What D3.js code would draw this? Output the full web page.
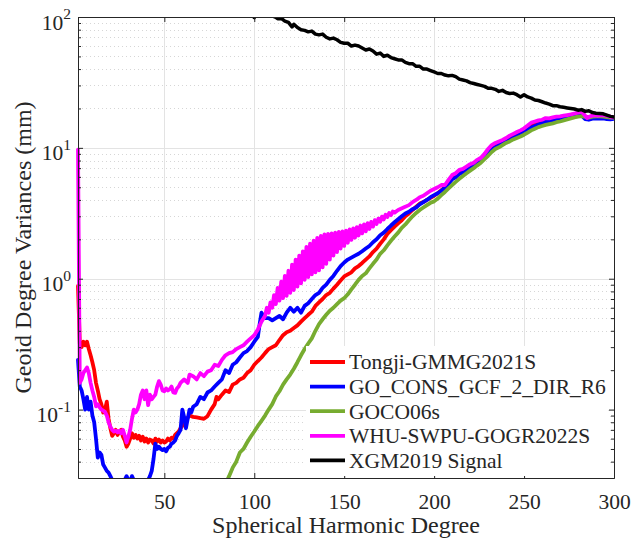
<!DOCTYPE html>
<head>
    <meta charset="utf-8">
    <script src="https://d3js.org/d3.v7.min.js"></script>
    <style>
    body {
        margin: 0;
        background: #fff;
    }

    svg text {
        font-family: "Liberation Serif", "Times New Roman", Times, serif;
        fill: #262626;
    }

    .grid-major line {
        stroke: #e3e3e3;
        stroke-width: 1;
    }

    .grid-minor line {
        stroke: #d6d6d6;
        stroke-width: 1;
        stroke-dasharray: 1, 3;
    }

    .axis path,
    .axis line {
        stroke: #262626;
    }

    .series {
        fill: none;
        stroke-linejoin: round;
        stroke-linecap: round;
    }
    </style>
</head>

<body>
    <script>
    // degree, value (mm) pairs
    var tongji = [
        [2, 0.88], [3, 0.32], [4, 0.30], [5, 0.33], [6, 0.31], [7, 0.33], [8, 0.29], [9, 0.26],
        [10, 0.23], [11, 0.20], [12, 0.16], [13, 0.14], [14, 0.12], [15, 0.11], [16, 0.095],
        [17, 0.10], [18, 0.115], [19, 0.085], [20, 0.072], [21, 0.063], [22, 0.066], [23, 0.07],
        [24, 0.064], [25, 0.068], [26, 0.07], [27, 0.062], [28, 0.058], [29, 0.052], [30, 0.055],
        [31, 0.06], [32, 0.066], [33, 0.061], [34, 0.064], [35, 0.06], [36, 0.063], [37, 0.058],
        [38, 0.062], [39, 0.057], [40, 0.06], [41, 0.056], [42, 0.059], [43, 0.058], [44, 0.055],
        [45, 0.06], [46, 0.057], [47, 0.059], [48, 0.056], [49, 0.058], [50, 0.056], [51, 0.057],
        [52, 0.06], [53, 0.058], [54, 0.061], [55, 0.06], [56, 0.064], [57, 0.066], [58, 0.068],
        [59, 0.072], [60, 0.075], [61, 0.078], [62, 0.083], [63, 0.087], [64, 0.09], [66, 0.088],
        [68, 0.087], [70, 0.086], [72, 0.085], [74, 0.089], [76, 0.1], [78, 0.11], [79, 0.125],
        [80, 0.12], [82, 0.13], [84, 0.14], [86, 0.136], [88, 0.155], [90, 0.16], [92, 0.17],
        [94, 0.175], [96, 0.19], [98, 0.2], [100, 0.22], [102, 0.235], [104, 0.25], [106, 0.27],
        [108, 0.29], [110, 0.3], [112, 0.31], [114, 0.34], [116, 0.37], [118, 0.39], [120, 0.4],
        [122, 0.42], [124, 0.44], [126, 0.47], [128, 0.5], [130, 0.53], [132, 0.56], [134, 0.62],
        [136, 0.66], [138, 0.7], [140, 0.75], [142, 0.78], [144, 0.84], [146, 0.9], [148, 0.97],
        [150, 1.04], [152, 1.08], [154, 1.12], [156, 1.2], [158, 1.25], [160, 1.32], [162, 1.4],
        [164, 1.48], [166, 1.6], [168, 1.7], [170, 1.85], [172, 2.0], [174, 2.2], [176, 2.35],
        [178, 2.5], [180, 2.65], [182, 2.8], [184, 3.0], [186, 3.15], [188, 3.35], [190, 3.55],
        [192, 3.75], [194, 3.85], [196, 4.0], [198, 4.15], [200, 4.3], [202, 4.5], [204, 4.75],
        [206, 5.0], [208, 5.4], [210, 5.9], [212, 6.1], [214, 6.5], [216, 6.6], [218, 6.9],
        [220, 7.2], [222, 7.4], [224, 7.8], [226, 8.1], [228, 8.6], [230, 9.4], [232, 10.0],
        [234, 10.4], [236, 10.7], [238, 11.0], [240, 11.4], [242, 11.8], [244, 12.2], [246, 12.6],
        [248, 13.0], [250, 13.5], [252, 14.1], [254, 14.8], [256, 15.2], [258, 15.5], [260, 15.8],
        [262, 16.2], [264, 16.2], [266, 16.5], [268, 16.7], [270, 16.9], [272, 17.1], [274, 17.3],
        [276, 17.5], [278, 17.8], [280, 18.1], [282, 18.4], [284, 17.3], [286, 17.1], [288, 17.3],
        [290, 17.4], [292, 17.3], [294, 17.4], [296, 17.2], [298, 17.0], [300, 17.0]
    ];

    var goCons = [
        [2, 0.24], [3, 0.15], [4, 0.14], [5, 0.12], [6, 0.10], [7, 0.125], [8, 0.10], [9, 0.115],
        [10, 0.09], [11, 0.08], [12, 0.06], [13, 0.043], [14, 0.047], [15, 0.045], [16, 0.038],
        [17, 0.036], [18, 0.034], [19, 0.033], [20, 0.031], [21, 0.029], [22, 0.028], [23, 0.027],
        [24, 0.026], [25, 0.027], [26, 0.028], [27, 0.027], [28, 0.029], [29, 0.031], [30, 0.029],
        [31, 0.028], [32, 0.031], [33, 0.029], [34, 0.027], [35, 0.026], [36, 0.025], [37, 0.026],
        [38, 0.027], [39, 0.028], [40, 0.027], [41, 0.029], [42, 0.031], [43, 0.034], [44, 0.042],
        [45, 0.055], [46, 0.05], [47, 0.052], [48, 0.05], [49, 0.049], [50, 0.05], [51, 0.048],
        [52, 0.051], [53, 0.052], [54, 0.055], [55, 0.056], [56, 0.058], [57, 0.063], [58, 0.066],
        [59, 0.07], [60, 0.1], [61, 0.088], [62, 0.072], [63, 0.085], [64, 0.1], [65, 0.095],
        [66, 0.105], [68, 0.11], [70, 0.125], [72, 0.12], [74, 0.135], [76, 0.14], [78, 0.15],
        [80, 0.16], [82, 0.17], [84, 0.2], [86, 0.19], [88, 0.22], [90, 0.23], [92, 0.25],
        [94, 0.27], [96, 0.28], [98, 0.3], [100, 0.33], [102, 0.36], [103, 0.45], [104, 0.55],
        [106, 0.5], [108, 0.5], [110, 0.48], [112, 0.5], [114, 0.52], [116, 0.49], [118, 0.55],
        [120, 0.6], [122, 0.56], [124, 0.6], [126, 0.55], [128, 0.62], [130, 0.65], [132, 0.7],
        [134, 0.75], [136, 0.78], [138, 0.85], [140, 0.9], [142, 0.98], [144, 1.05], [146, 1.15],
        [148, 1.25], [150, 1.33], [152, 1.4], [154, 1.45], [156, 1.5], [158, 1.55], [160, 1.62],
        [162, 1.7], [164, 1.78], [166, 1.9], [168, 2.0], [170, 2.15], [172, 2.25], [174, 2.4],
        [176, 2.55], [178, 2.7], [180, 2.85], [182, 3.0], [184, 3.15], [186, 3.25], [188, 3.4],
        [190, 3.5], [192, 3.7], [194, 3.85], [196, 4.0], [198, 4.2], [200, 4.35], [202, 4.5],
        [204, 4.7], [206, 4.95], [208, 5.3], [210, 5.75], [212, 5.95], [214, 6.3], [216, 6.5],
        [218, 6.75], [220, 7.05], [222, 7.3], [224, 7.6], [226, 7.95], [228, 8.4], [230, 9.1],
        [232, 9.7], [234, 10.1], [236, 10.5], [238, 10.8], [240, 11.1], [242, 11.5], [244, 11.9],
        [246, 12.3], [248, 12.7], [250, 13.1], [252, 13.7], [254, 14.3], [256, 14.7], [258, 15.1],
        [260, 15.4], [262, 15.8], [264, 15.9], [266, 16.2], [268, 16.4], [270, 16.5], [272, 16.7],
        [274, 16.9], [276, 17.1], [278, 17.3], [280, 17.6], [282, 17.7], [284, 16.6], [286, 16.4],
        [288, 16.7], [290, 16.8], [292, 16.7], [294, 16.8], [296, 16.6], [298, 16.5], [300, 16.7]
    ];

    var goco06s = [
        [80, 0.022], [82, 0.024], [84, 0.027], [86, 0.031], [88, 0.036], [90, 0.04], [92, 0.047],
        [94, 0.05], [96, 0.056], [98, 0.062], [100, 0.068], [102, 0.075], [104, 0.082],
        [106, 0.09], [108, 0.1], [110, 0.11], [112, 0.126], [114, 0.138], [116, 0.155],
        [118, 0.17], [120, 0.185], [122, 0.205], [124, 0.23], [126, 0.26], [128, 0.29],
        [130, 0.32], [132, 0.35], [134, 0.4], [136, 0.45], [138, 0.49], [140, 0.53], [142, 0.57],
        [144, 0.6], [146, 0.64], [148, 0.68], [150, 0.71], [152, 0.76], [154, 0.83], [156, 0.9],
        [158, 0.98], [160, 1.05], [162, 1.1], [164, 1.2], [166, 1.3], [168, 1.4], [170, 1.55],
        [172, 1.65], [174, 1.8], [176, 1.95], [178, 2.1], [180, 2.25], [182, 2.45], [184, 2.6],
        [186, 2.8], [188, 3.0], [190, 3.18], [192, 3.35], [194, 3.5], [196, 3.65], [198, 3.8],
        [200, 3.9], [202, 4.1], [204, 4.35], [206, 4.6], [208, 4.9], [210, 5.2], [212, 5.5],
        [214, 5.8], [216, 6.1], [218, 6.4], [220, 6.7], [222, 7.0], [224, 7.35], [226, 7.7],
        [228, 8.2], [230, 8.7], [232, 9.3], [234, 9.8], [236, 10.1], [238, 10.5], [240, 10.9],
        [242, 11.2], [244, 11.6], [246, 11.9], [248, 12.2], [250, 12.6], [252, 13.1], [254, 13.6],
        [256, 14.0], [258, 14.4], [260, 14.7], [262, 15.0], [264, 15.2], [266, 15.4], [268, 15.7],
        [270, 15.9], [272, 16.2], [274, 16.5], [276, 16.8], [278, 17.1], [280, 17.3], [282, 17.5],
        [284, 17.2], [286, 17.0], [288, 17.3], [290, 17.4], [292, 17.4], [294, 17.3], [296, 17.2],
        [298, 17.0], [300, 17.0]
    ];

    var whuSwpu = [
        [2, 9.7], [3, 0.16], [4, 0.17], [5, 0.19], [6, 0.2], [7, 0.21], [8, 0.19], [9, 0.16],
        [10, 0.14], [11, 0.125], [12, 0.106], [13, 0.11], [14, 0.104], [15, 0.1], [16, 0.098],
        [17, 0.096], [18, 0.09], [19, 0.08], [20, 0.074], [21, 0.07], [22, 0.068], [23, 0.069],
        [24, 0.067], [25, 0.069], [26, 0.066], [27, 0.07], [28, 0.063], [29, 0.056], [30, 0.062],
        [31, 0.07], [32, 0.085], [33, 0.1], [34, 0.095], [35, 0.1], [36, 0.11], [37, 0.13],
        [38, 0.14], [39, 0.12], [40, 0.14], [41, 0.108], [42, 0.13], [43, 0.12], [44, 0.125],
        [45, 0.13], [46, 0.15], [47, 0.165], [48, 0.155], [49, 0.14], [50, 0.138], [51, 0.145],
        [52, 0.14], [53, 0.143], [54, 0.15], [55, 0.135], [56, 0.134], [57, 0.145], [58, 0.15],
        [59, 0.16], [60, 0.165], [61, 0.17], [62, 0.165], [63, 0.16], [64, 0.185], [66, 0.18],
        [68, 0.17], [70, 0.19], [72, 0.18], [74, 0.195], [76, 0.2], [78, 0.22], [80, 0.215],
        [82, 0.24], [84, 0.26], [86, 0.27], [88, 0.275], [90, 0.29], [92, 0.3], [94, 0.31],
        [96, 0.33], [98, 0.35], [100, 0.37], [102, 0.41], [104, 0.47], [106, 0.52],
        [107, 0.6], [108, 0.55], [109, 0.66], [110, 0.6], [111, 0.75], [112, 0.64], [113, 0.85],
        [114, 0.68], [115, 0.95], [116, 0.71], [117, 1.05], [118, 0.74], [119, 1.15], [120, 0.78],
        [121, 1.28], [122, 0.82], [123, 1.4], [124, 0.87], [125, 1.5], [126, 0.92], [127, 1.62],
        [128, 0.98], [129, 1.75], [130, 1.03], [131, 1.85], [132, 1.08], [133, 1.95], [134, 1.12],
        [135, 2.05], [136, 1.16], [137, 2.12], [138, 1.22], [139, 2.18], [140, 1.3], [141, 2.2],
        [142, 1.4], [143, 2.22], [144, 1.5], [145, 2.25], [146, 1.6], [147, 2.28], [148, 1.7],
        [149, 2.3], [150, 1.78], [151, 2.33], [152, 1.88], [153, 2.38], [154, 1.98], [155, 2.42],
        [156, 2.06], [157, 2.48], [158, 2.14], [159, 2.55], [160, 2.22], [161, 2.6], [162, 2.3],
        [163, 2.66], [164, 2.4], [165, 2.72], [166, 2.5], [167, 2.8], [168, 2.62], [169, 2.88],
        [170, 2.72], [171, 2.98], [172, 2.84], [173, 3.08], [174, 2.96], [175, 3.18], [176, 3.06],
        [177, 3.26], [178, 3.2], [180, 3.35], [183, 3.5], [186, 3.65], [188, 3.85], [190, 4.0],
        [192, 4.2], [194, 4.3], [196, 4.5], [198, 4.7], [200, 4.85], [202, 5.0], [204, 5.2],
        [206, 5.2], [208, 5.7], [210, 6.2], [212, 6.4], [214, 6.8], [216, 6.9], [218, 7.2],
        [220, 7.5], [222, 7.7], [224, 8.1], [226, 8.4], [228, 9.0], [230, 9.8], [232, 10.5],
        [234, 10.9], [236, 11.2], [238, 11.5], [240, 11.9], [242, 12.4], [244, 12.8], [246, 13.2],
        [248, 13.6], [250, 14.1], [252, 14.8], [254, 15.6], [256, 15.9], [258, 16.2], [260, 16.4],
        [262, 16.9], [264, 16.8], [266, 17.1], [268, 17.3], [270, 17.4], [272, 17.6], [274, 17.8],
        [276, 18.0], [278, 18.3], [280, 18.6], [282, 18.9], [284, 17.6], [285, 16.9], [287, 17.5],
        [289, 17.8], [291, 17.6], [293, 17.8], [295, 17.7], [297, 17.5], [299, 17.1], [300, 17.2]
    ];

    var xgmSignal = [
        [100, 99], [101, 104], [104, 108], [108, 104], [110, 102], [112, 99.5], [113, 97],
        [115, 97.5], [117, 93], [119, 91], [121, 84], [122, 88], [124, 83], [126, 80], [128, 79],
        [130, 77], [132, 78], [134, 74], [136, 73], [138, 74], [140, 70], [142, 68], [144, 69],
        [146, 67], [148, 64], [150, 63], [152, 63], [154, 60], [156, 61], [158, 60], [160, 58],
        [162, 56], [164, 57], [166, 55], [168, 52], [170, 53], [172, 50], [174, 51], [176, 49],
        [178, 48], [180, 47], [182, 47], [184, 45], [186, 44], [188, 44], [190, 42], [192, 42],
        [194, 40], [196, 40], [198, 39], [200, 38], [202, 37], [204, 37], [206, 36], [208, 35.5],
        [210, 35.8], [212, 35], [214, 33.5], [216, 33], [218, 32.5], [220, 31.5], [222, 31],
        [224, 30.5], [226, 30], [228, 29.5], [230, 28.5], [232, 28.5], [234, 28], [236, 27],
        [238, 27.5], [240, 26.5], [242, 26], [244, 26.2], [246, 25.5], [248, 24.5], [250, 25.5],
        [252, 24.5], [254, 24], [256, 23.2], [258, 23], [260, 22.5], [262, 22], [264, 21.6],
        [266, 21], [268, 21], [270, 20.6], [272, 20.4], [274, 20.2], [276, 20], [278, 19.8],
        [280, 19.4], [282, 19.6], [284, 19.0], [286, 19.2], [288, 18.6], [290, 18.4], [292, 18.3],
        [294, 18.2], [296, 17.8], [298, 17.4], [300, 17.2]
    ];

    var seriesNames = ["Tongji-GMMG2021S", "GO_CONS_GCF_2_DIR_R6", "GOCO06s", "WHU-SWPU-GOGR2022S", "XGM2019 Signal"];
    var seriesColors = ["#ff0000", "#0000ff", "#77ac30", "#ff00ff", "#000000"];
    var seriesData = [tongji, goCons, goco06s, whuSwpu, xgmSignal];

    var xTicks = [50, 100, 150, 200, 250, 300];
    var yTicks = [0.1, 1, 10, 100];

    var margin = { top: 17, right: 19, bottom: 60, left: 78 };
    var fontStack = '"Liberation Serif", "Times New Roman", Times, serif';

    function drawChart() {
        var width = 633 - margin.left - margin.right;
        var height = 538 - margin.top - margin.bottom;

        var svg = d3.select("body").append("svg")
            .attr("width", 633)
            .attr("height", 538)
            .append("g")
            .attr("transform", "translate(" + margin.left + "," + margin.top + ")");

        var x = d3.scaleLinear().domain([2, 300]).range([0, width]);
        var y = d3.scaleLog().domain([0.03, 100]).range([height, 0]);

        var minorY = [];
        [0.01, 0.1, 1, 10].forEach(function(p) {
            for (var k = 2; k <= 9; k++) {
                var v = +(k * p).toPrecision(3);
                if (v > 0.03 && v < 100) minorY.push(v);
            }
        });

        // grid
        svg.append("g").attr("class", "grid-minor")
            .selectAll("line").data(minorY).enter().append("line")
            .attr("x1", 0).attr("x2", width)
            .attr("y1", function(d) { return Math.round(y(d)) + 0.5; })
            .attr("y2", function(d) { return Math.round(y(d)) + 0.5; });

        var gMaj = svg.append("g").attr("class", "grid-major");
        gMaj.selectAll(".gy").data([0.1, 1, 10]).enter().append("line")
            .attr("x1", 0).attr("x2", width)
            .attr("y1", function(d) { return Math.round(y(d)) + 0.5; })
            .attr("y2", function(d) { return Math.round(y(d)) + 0.5; });
        gMaj.selectAll(".gx").data([50, 100, 150, 200, 250]).enter().append("line")
            .attr("y1", 0).attr("y2", height)
            .attr("x1", function(d) { return Math.round(x(d)) + 0.5; })
            .attr("x2", function(d) { return Math.round(x(d)) + 0.5; });

        // lines (the thick strokes spill a little past the left edge, as in the figure)
        svg.append("clipPath").attr("id", "clip")
            .append("rect").attr("x", -2).attr("width", width + 2).attr("height", height);

        var line = d3.line()
            .x(function(d) { return x(d[0]); })
            .y(function(d) { return y(d[1]); });

        var plot = svg.append("g").attr("clip-path", "url(#clip)");
        seriesData.forEach(function(s, i) {
            plot.append("path")
                .datum(s)
                .attr("class", "series")
                .attr("stroke", seriesColors[i])
                .attr("stroke-width", i === 4 ? 3.5 : 3.8)
                .attr("d", line);
        });

        // axes
        var xAxis = d3.axisBottom(x).tickValues(xTicks).tickSize(-5).tickSizeOuter(0).tickPadding(16);
        var gx = svg.append("g").attr("class", "axis")
            .attr("transform", "translate(0," + height + ")")
            .call(xAxis);
        gx.attr("font-family", null);
        gx.selectAll("text").style("font-size", "21.5px").style("font-family", fontStack);

        svg.append("g").attr("class", "axis")
            .call(d3.axisTop(x).tickValues(xTicks).tickSize(-5).tickSizeOuter(0).tickFormat(""));

        var gy = svg.append("g").attr("class", "axis")
            .call(d3.axisLeft(y).tickValues(yTicks).tickSize(-5).tickSizeOuter(0).tickPadding(7));
        gy.attr("font-family", null);
        gy.selectAll("text").each(function(d) {
            var t = d3.select(this);
            t.text(null).attr("dy", null).attr("y", 12)
                .style("font-size", "21.5px").style("font-family", fontStack);
            t.append("tspan").text("10");
            t.append("tspan").attr("dy", -10.5).style("font-size", "15.5px")
                .text(Math.round(Math.log10(d)));
        });
        svg.append("g").attr("class", "axis")
            .call(d3.axisLeft(y).tickValues(minorY).tickSize(-3).tickSizeOuter(0).tickFormat(""));

        svg.append("g").attr("class", "axis")
            .attr("transform", "translate(" + width + ",0)")
            .call(d3.axisRight(y).tickValues(yTicks).tickSize(-5).tickSizeOuter(0).tickFormat(""));
        svg.append("g").attr("class", "axis")
            .attr("transform", "translate(" + width + ",0)")
            .call(d3.axisRight(y).tickValues(minorY).tickSize(-3).tickSizeOuter(0).tickFormat(""));

        // axis labels
        svg.append("text")
            .attr("x", width / 2)
            .attr("y", height + 55)
            .style("text-anchor", "middle")
            .style("font-size", "24px")
            .style("font-family", fontStack)
            .text("Spherical Harmonic Degree");

        svg.append("text")
            .attr("transform", "rotate(-90)")
            .attr("x", -height / 2)
            .attr("y", -47.5)
            .style("text-anchor", "middle")
            .style("font-size", "24px")
            .style("font-family", fontStack)
            .text("Geoid Degree Variances (mm)");

        // legend
        var legend = svg.append("g")
            .attr("transform", "translate(" + (x(2) + 228) + "," + 329 + ")");
        legend.append("rect")
            .attr("width", 302).attr("height", 130)
            .attr("fill", "#fff");
        seriesNames.forEach(function(name, i) {
            var row = legend.append("g").attr("transform", "translate(0," + (16 + i * 24.6) + ")");
            row.append("line")
                .attr("x1", 4).attr("x2", 39)
                .attr("stroke", seriesColors[i])
                .attr("stroke-width", 3.8);
            row.append("text")
                .attr("x", 43)
                .attr("dy", "0.34em")
                .style("font-size", "21.5px")
                .style("font-family", fontStack)
                .text(name);
        });
    }

    drawChart();
    </script>
</body>
